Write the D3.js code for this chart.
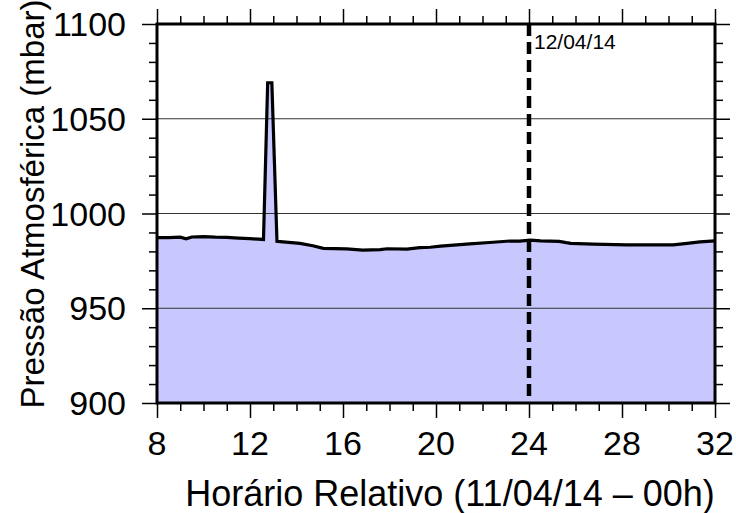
<!DOCTYPE html>
<html><head><meta charset="utf-8">
<script src="https://cdn.jsdelivr.net/npm/d3@7"></script>
<style>body{margin:0;background:#fff}svg{display:block}text{font-family:"Liberation Sans",Arial,sans-serif}</style>
</head><body>
<svg id="c" width="736" height="513"></svg>
<script>
const hours = [8, 8.5, 9, 9.25, 9.5, 10, 10.5, 11, 11.5, 12, 12.58, 12.76, 12.94, 13.16, 13.3, 14.15, 14.7, 15.15, 16.15, 16.85, 17.6, 17.9, 18.75, 19.3, 19.75, 20.2, 21.45, 22.3, 23.2, 23.6, 24.05, 24.5, 25.3, 25.6, 25.8, 26.75, 28.2, 30.2, 30.8, 31.35, 32];
const pressure = [987.3, 987.3, 987.5, 986.6, 987.6, 987.8, 987.5, 987.4, 987.0, 986.7, 986.3, 1069, 1069, 985.3, 985.2, 984.2, 983.0, 981.6, 981.3, 980.7, 980.9, 981.4, 981.2, 982.0, 982.2, 982.8, 984.0, 984.7, 985.5, 985.4, 985.9, 985.6, 985.3, 984.6, 984.2, 983.8, 983.4, 983.4, 984.2, 985.0, 985.6];
const xMajor = [8, 12, 16, 20, 24, 28, 32];
const yMajor = [900, 950, 1000, 1050, 1100];
const gridLevels = [950, 1000, 1050];
const markerHour = 24;
const markerLabel = "12/04/14";
const xTitle = "Horário Relativo (11/04/14 – 00h)";
const yTitle = "Pressão Atmosférica (mbar)";

const L = 157, R = 715, T = 24, B = 403;
const svg = d3.select("#c");
const x = d3.scaleLinear().domain([8, 32]).range([L, R]);
const y = d3.scaleLinear().domain([900, 1100]).range([B, T]);
const data = hours.map((h, i) => ({h, p: pressure[i]}));

// area
svg.append("path").datum(data)
  .attr("d", d3.area().x(d => x(d.h)).y0(B).y1(d => y(d.p)))
  .attr("fill", "#c8c8ff");

// grid
svg.selectAll(".grid").data(gridLevels).join("line")
  .attr("x1", L).attr("x2", R).attr("y1", d => y(d)).attr("y2", d => y(d))
  .attr("stroke", "#333").attr("stroke-width", 1);

// line
svg.append("path").datum(data)
  .attr("d", d3.line().x(d => x(d.h)).y(d => y(d.p)))
  .attr("fill", "none").attr("stroke", "#000").attr("stroke-width", 3.2).attr("stroke-linejoin", "miter");

// marker line
svg.append("line").attr("x1", x(markerHour)).attr("x2", x(markerHour)).attr("y1", T).attr("y2", B)
  .attr("stroke", "#000").attr("stroke-width", 4.5).attr("stroke-dasharray", "12,6");
svg.append("text").attr("x", x(markerHour) + 5).attr("y", T + 25).attr("font-size", 21).text(markerLabel);

// axes with outward ticks
function styleAxis(g) {
  g.select(".domain").remove();
  g.selectAll("line").attr("stroke", "#000").attr("stroke-width", 1.5);
  g.selectAll("text").remove();
}
const minorX = d3.range(8, 33, 1).filter(v => !xMajor.includes(v));
const minorY = d3.range(900, 1101, 10).filter(v => !yMajor.includes(v));

svg.append("g").attr("transform", `translate(0,${B})`).call(d3.axisBottom(x).tickValues(xMajor).tickSize(15)).call(styleAxis);
svg.append("g").attr("transform", `translate(0,${B})`).call(d3.axisBottom(x).tickValues(minorX).tickSize(8)).call(styleAxis);
svg.append("g").attr("transform", `translate(0,${T})`).call(d3.axisTop(x).tickValues(xMajor).tickSize(15)).call(styleAxis);
svg.append("g").attr("transform", `translate(0,${T})`).call(d3.axisTop(x).tickValues(minorX).tickSize(8)).call(styleAxis);
svg.append("g").attr("transform", `translate(${L},0)`).call(d3.axisLeft(y).tickValues(yMajor).tickSize(15)).call(styleAxis);
svg.append("g").attr("transform", `translate(${L},0)`).call(d3.axisLeft(y).tickValues(minorY).tickSize(8)).call(styleAxis);
svg.append("g").attr("transform", `translate(${R},0)`).call(d3.axisRight(y).tickValues(yMajor).tickSize(15)).call(styleAxis);
svg.append("g").attr("transform", `translate(${R},0)`).call(d3.axisRight(y).tickValues(minorY).tickSize(8)).call(styleAxis);

// frame
svg.append("rect").attr("x", L).attr("y", T).attr("width", R - L).attr("height", B - T)
  .attr("fill", "none").attr("stroke", "#000").attr("stroke-width", 3);

// tick labels
svg.selectAll(".xl").data(xMajor).join("text")
  .attr("x", d => x(d)).attr("y", 455).attr("text-anchor", "middle").attr("font-size", 34).text(d => d);
svg.selectAll(".yl").data(yMajor).join("text")
  .attr("x", 126).attr("y", d => y(d)).attr("dy", "0.36em").attr("text-anchor", "end").attr("font-size", 34).text(d => d);

// titles
svg.append("text").attr("x", 450).attr("y", 506).attr("text-anchor", "middle").attr("font-size", 36).text(xTitle);
svg.append("text").attr("transform", `translate(44,204) rotate(-90)`).attr("text-anchor", "middle").attr("font-size", 33).text(yTitle);
</script>
</body></html>
